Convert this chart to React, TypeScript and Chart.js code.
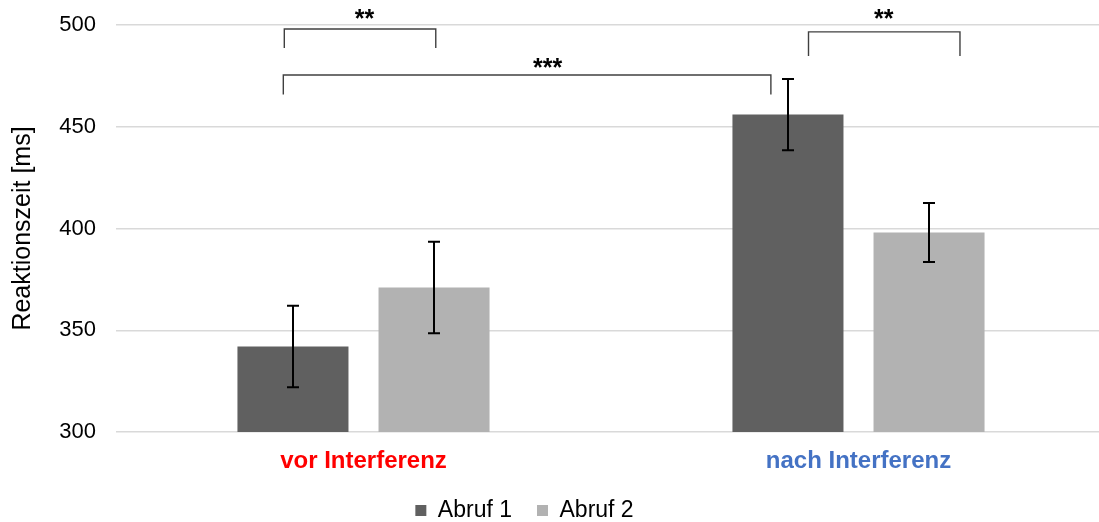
import React, { useEffect, useRef } from "react";
import { Chart, registerables } from "chart.js";

Chart.register(...registerables);

const categories = ["vor Interferenz", "nach Interferenz"];
const categoryColors = ["#FF0000", "#4472C4"];
const seriesNames = ["Abruf 1", "Abruf 2"];
const seriesColors = ["#606060", "#b2b2b2"];
const abruf1 = [342, 456];
const abruf2 = [371, 398];
const abruf1Err = [20, 17.5];
const abruf2Err = [22.5, 14.5];
const yTicks = [300, 350, 400, 450, 500];

// significance brackets (x in category-index units, y in ms)
const bracketFrom = [-0.16, -0.162, 0.899];
const bracketTo = [0.146, 0.823, 1.205];
const bracketTop = [498, 475.4, 496.6];
const bracketFoot = [488.7, 465.8, 484.8];
const bracketLabel = ["**", "***", "**"];
const bracketLabelX = [0.002, 0.372, 1.051];
const bracketLabelY = [504.4, 480.3, 504.4];

const FONT = "'Liberation Sans', Arial, sans-serif";

const overlayPlugin = {
  id: "overlay",
  afterLayout(chart: any) {
    const lg = chart.legend;
    if (lg) {
      lg.left = 0;
      lg.right = 1049;
    }
  },
  afterDatasetsDraw(chart: any) {
    const ctx = chart.ctx;
    const y = chart.scales.y;
    const x = chart.scales.x;
    const errs = [abruf1Err, abruf2Err];
    const vals = [abruf1, abruf2];
    ctx.save();
    ctx.strokeStyle = "#000";
    ctx.lineWidth = 2;
    errs.forEach((errArr, di) => {
      const meta = chart.getDatasetMeta(di);
      meta.data.forEach((bar: any, i: number) => {
        const cx = Math.round(bar.x);
        const top = y.getPixelForValue(vals[di][i] + errArr[i]);
        const bot = y.getPixelForValue(vals[di][i] - errArr[i]);
        ctx.beginPath();
        ctx.moveTo(cx, top);
        ctx.lineTo(cx, bot);
        ctx.moveTo(cx - 6, top);
        ctx.lineTo(cx + 6, top);
        ctx.moveTo(cx - 6, bot);
        ctx.lineTo(cx + 6, bot);
        ctx.stroke();
      });
    });
    ctx.strokeStyle = "#404040";
    ctx.lineWidth = 1.4;
    bracketFrom.forEach((f, i) => {
      const x1 = x.getPixelForValue(f);
      const x2 = x.getPixelForValue(bracketTo[i]);
      const yt = y.getPixelForValue(bracketTop[i]);
      const yb = y.getPixelForValue(bracketFoot[i]);
      ctx.beginPath();
      ctx.moveTo(x1, yb);
      ctx.lineTo(x1, yt);
      ctx.lineTo(x2, yt);
      ctx.lineTo(x2, yb);
      ctx.stroke();
    });
    ctx.fillStyle = "#000";
    ctx.font = `bold 25px ${FONT}`;
    ctx.textAlign = "center";
    ctx.textBaseline = "middle";
    bracketLabel.forEach((t, i) => {
      ctx.fillText(
        t,
        x.getPixelForValue(bracketLabelX[i]),
        y.getPixelForValue(bracketLabelY[i]) + 4
      );
    });
    ctx.restore();
  },
};

export default function App() {
  const ref = useRef<HTMLCanvasElement | null>(null);
  useEffect(() => {
    if (!ref.current) return;
    const chart = new Chart(ref.current, {
      type: "bar",
      data: {
        labels: categories,
        datasets: [
          {
            label: seriesNames[0],
            data: abruf1,
            backgroundColor: seriesColors[0],
            categoryPercentage: 0.57,
            barPercentage: 0.787,
          },
          {
            label: seriesNames[1],
            data: abruf2,
            backgroundColor: seriesColors[1],
            categoryPercentage: 0.57,
            barPercentage: 0.787,
          },
        ],
      },
      options: {
        responsive: false,
        animation: false,
        layout: { padding: { top: 25, left: 0, right: 0, bottom: -10 } },
        plugins: {
          tooltip: { enabled: false },
          legend: {
            position: "bottom",
            labels: {
              boxWidth: 11,
              boxHeight: 11,
              padding: 25,
              color: "#000",
              font: { family: FONT, size: 23 },
            },
          },
        },
        scales: {
          x: {
            grid: { display: false, drawTicks: false },
            border: { display: false },
            ticks: {
              padding: 15,
              color: (c: any) => categoryColors[c.index] || "#000",
              font: { family: FONT, size: 24, weight: "bold" },
            },
            afterFit: (s: any) => {
              s.height = 42;
            },
          },
          y: {
            min: 300,
            max: 500,
            afterBuildTicks: (s: any) => {
              s.ticks = yTicks.map((v) => ({ value: v }));
            },
            grid: { color: "#d9d9d9", lineWidth: 1.5, drawTicks: false },
            border: { display: false },
            ticks: {
              padding: 20,
              color: "#000",
              font: { family: FONT, size: 22 },
            },
            title: {
              display: true,
              text: "Reaktionszeit [ms]",
              color: "#000",
              font: { family: FONT, size: 25 },
              padding: { top: 8, bottom: 0 },
            },
            afterFit: (s: any) => {
              s.width = 116;
              s.paddingTop = 0;
              s.paddingBottom = 0;
            },
          },
        },
      },
      plugins: [overlayPlugin],
    });
    return () => chart.destroy();
  }, []);
  return (
    <div
      style={{
        position: "absolute",
        left: 0,
        top: 0,
        width: 1099,
        height: 522,
        overflow: "hidden",
        background: "#fff",
      }}
    >
      <canvas ref={ref} width={1106} height={522} style={{ display: "block" }} />
    </div>
  );
}
